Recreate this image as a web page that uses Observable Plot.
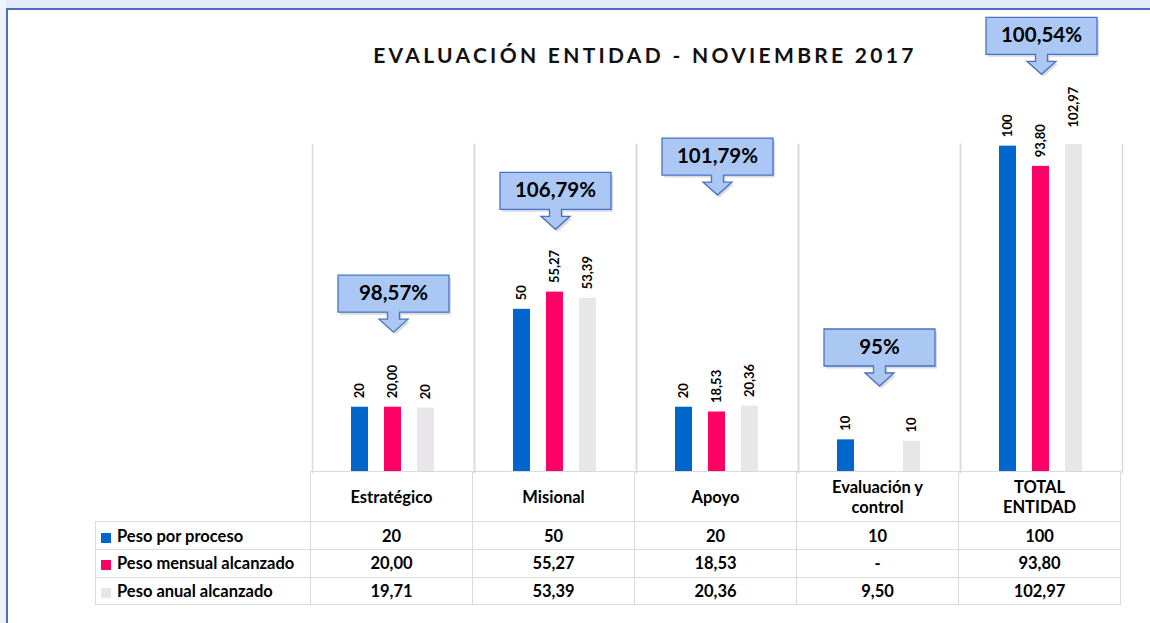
<!DOCTYPE html>
<html><head><meta charset="utf-8">
<script src="https://cdn.jsdelivr.net/npm/d3@7"></script>
<script src="https://cdn.jsdelivr.net/npm/@observablehq/plot@0.6"></script>
<style>
html,body{margin:0;padding:0;background:#fff}
#wrap{position:relative;width:1150px;height:623px;overflow:hidden;background:#fff;font-family:Lato,"DejaVu Sans",sans-serif}
#topstrip{position:absolute;left:0;top:0;width:1150px;height:8px;background:#e2ebf9}
#leftstrip{position:absolute;left:0;top:0;width:6px;height:623px;background:#eef3fc}
#border{position:absolute;left:6px;top:8px;width:1200px;height:700px;border-left:2px solid #4d6fbf;border-top:2px solid #4d6fbf;box-sizing:border-box}
#title{position:absolute;left:0;width:1290px;top:42px;text-align:center;font-weight:bold;font-size:21px;letter-spacing:3.3px;color:#111;white-space:nowrap}
#chart{position:absolute;left:0;top:0}
#tbl{position:absolute;top:471px;border-collapse:collapse;font-weight:bold;font-size:16.5px;color:#000;font-family:Lato,"DejaVu Sans",sans-serif}
#tbl td{border:1.5px solid #dadada;text-align:center;padding:0;line-height:20px}
#tbl td.lab{text-align:left;padding-left:5px;white-space:nowrap}
#tbl td.blank{border-top:none;border-left:none}
.sw{display:inline-block;width:10px;height:10px;margin-right:6px;vertical-align:-1px}
</style></head>
<body>
<div id="wrap">
  <div id="topstrip"></div>
  <div id="leftstrip"></div>
  <div id="border"></div>
  <div id="chart"></div>
  <div id="title">EVALUACIÓN ENTIDAD - NOVIEMBRE 2017</div>
  <table id="tbl"></table>
</div>
<script>
const categories = ["Estratégico", "Misional", "Apoyo", "Evaluación y\ncontrol", "TOTAL\nENTIDAD"];
const series = ["Peso por proceso", "Peso mensual alcanzado", "Peso anual alcanzado"];
const pesoProceso = [20, 50, 20, 10, 100];
const pesoMensual = [20.00, 55.27, 18.53, 0, 93.80];
const pesoAnual = [19.71, 53.39, 20.36, 9.50, 102.97];
const labelsProceso = ["20", "50", "20", "10", "100"];
const labelsMensual = ["20,00", "55,27", "18,53", "", "93,80"];
const labelsAnual = ["20", "53,39", "20,36", "10", "102,97"];
const tableProceso = ["20", "50", "20", "10", "100"];
const tableMensual = ["20,00", "55,27", "18,53", "-", "93,80"];
const tableAnual = ["19,71", "53,39", "20,36", "9,50", "102,97"];
const calloutText = ["98,57%", "106,79%", "101,79%", "95%", "100,54%"];
const calloutLevel = [43, 74.5, 85, 26.5, 122];
const seriesColors = ["#0066cc", "#ff0066", "#e8e6e8"];

const values = [pesoProceso, pesoMensual, pesoAnual];
const labels = [labelsProceso, labelsMensual, labelsAnual];
const tableVals = [tableProceso, tableMensual, tableAnual];

const bars = categories.flatMap((c, i) => series.map((s, j) => ({cat: c, s, v: values[j][i], label: labels[j][i]})));
const callouts = categories.map((c, i) => ({cat: c, text: calloutText[i], level: calloutLevel[i]}));

const calloutShape = {
  draw(ctx) {
    ctx.moveTo(-55.5, -57); ctx.lineTo(55.5, -57); ctx.lineTo(55.5, -20);
    ctx.lineTo(6, -20); ctx.lineTo(6, -13); ctx.lineTo(14.5, -13);
    ctx.lineTo(0, 0);
    ctx.lineTo(-14.5, -13); ctx.lineTo(-6, -13); ctx.lineTo(-6, -20);
    ctx.lineTo(-55.5, -20); ctx.closePath();
  }
};

const chart = Plot.plot({
  width: 1150,
  height: 480,
  marginLeft: 310,
  marginRight: 27,
  marginTop: 144,
  marginBottom: 8,
  style: {background: "transparent", overflow: "visible", fontFamily: "Lato, 'DejaVu Sans', sans-serif"},
  fx: {domain: categories, padding: 0, axis: null},
  x: {domain: series, axis: null, paddingInner: 0.475, paddingOuter: 1.18},
  y: {domain: [0, 100.5], axis: null},
  color: {domain: series, range: seriesColors},
  marks: [
    Plot.frame({anchor: "left", stroke: "#dadada", strokeWidth: 1.5}),
    Plot.frame({anchor: "right", stroke: "#dadada", strokeWidth: 1.5}),
    Plot.barY(bars, {fx: "cat", x: "s", y: "v", fill: "s", clip: true}),
    Plot.text(bars, {fx: "cat", x: "s", y: "v", text: "label", rotate: -90, textAnchor: "start", dy: -9, fontSize: 13, fontWeight: "bold", fill: "#000"}),
    Plot.dot(callouts, {fx: "cat", y: "level", symbol: calloutShape, fill: "#7f8896", fillOpacity: 0.3, stroke: "none", dx: 2, dy: 2.5}),
    Plot.dot(callouts, {fx: "cat", y: "level", symbol: calloutShape, fill: "#abc8f4", stroke: "#4a72c4", strokeWidth: 1.3}),
    Plot.text(callouts, {fx: "cat", y: "level", text: "text", dy: -38.5, fontSize: 20.5, fontWeight: "bold", fill: "#000"})
  ]
});
document.getElementById("chart").appendChild(chart);

// data table aligned with the facet scale
const fxs = chart.scale("fx");
const colW = fxs.bandwidth;
const firstX = Math.min(...fxs.range);
const tbl = document.getElementById("tbl");
const labelW = 215;
tbl.style.left = (firstX - labelW) + "px";
let html = `<colgroup><col style="width:${labelW}px">` + categories.map(() => `<col style="width:${colW}px">`).join("") + `</colgroup>`;
html += `<tr style="height:50px"><td class="blank"></td>` + categories.map(c => `<td style="white-space:pre-line">${c}</td>`).join("") + `</tr>`;
series.forEach((s, j) => {
  html += `<tr style="height:${j === 0 ? 28 : 27.5}px"><td class="lab"><span class="sw" style="background:${seriesColors[j]}"></span>${s}</td>` +
    tableVals[j].map(v => `<td>${v}</td>`).join("") + `</tr>`;
});
tbl.innerHTML = html;
tbl.style.width = (labelW + colW * categories.length) + "px";
tbl.style.tableLayout = "fixed";
</script>
</body></html>
